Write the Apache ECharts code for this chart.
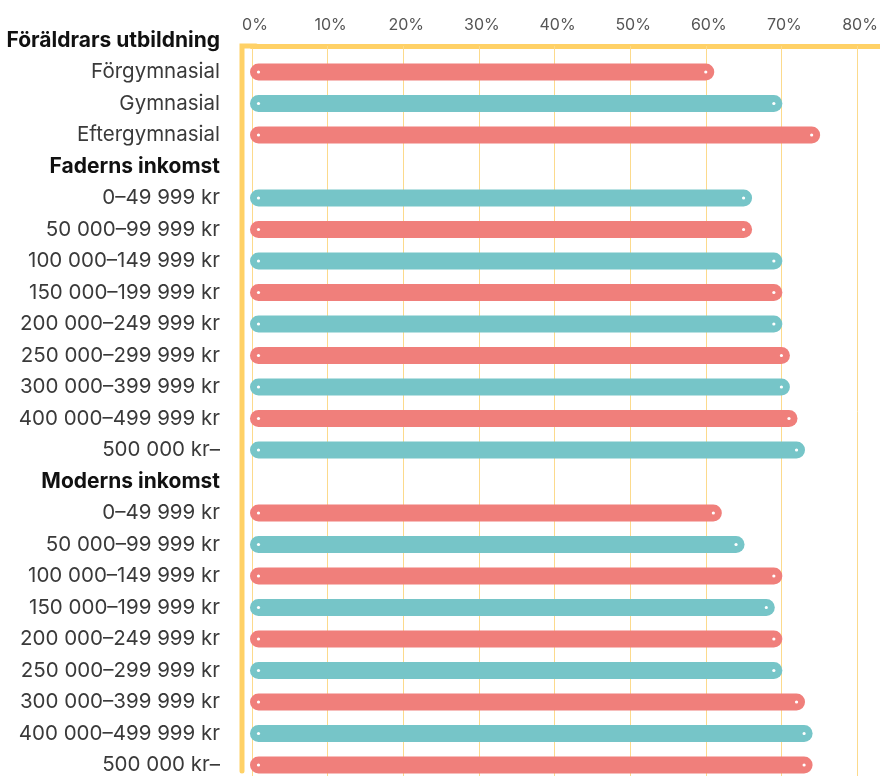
<!DOCTYPE html>
<html>
<head>
<meta charset="utf-8">
<script src="https://cdn.jsdelivr.net/npm/echarts@6/dist/echarts.min.js"></script>
<style>
  html, body { margin: 0; padding: 0; background: #fff; }
  #chart { width: 880px; height: 776px; }
</style>
</head>
<body>
<div id="chart"></div>
<script>
// Row labels, top to bottom. Group headers carry no value.
var categories = [
  "Föräldrars utbildning",
  "Förgymnasial", "Gymnasial", "Eftergymnasial",
  "Faderns inkomst",
  "0–49 999 kr", "50 000–99 999 kr", "100 000–149 999 kr", "150 000–199 999 kr",
  "200 000–249 999 kr", "250 000–299 999 kr", "300 000–399 999 kr",
  "400 000–499 999 kr", "500 000 kr–",
  "Moderns inkomst",
  "0–49 999 kr", "50 000–99 999 kr", "100 000–149 999 kr", "150 000–199 999 kr",
  "200 000–249 999 kr", "250 000–299 999 kr", "300 000–399 999 kr",
  "400 000–499 999 kr", "500 000 kr–"
];
var headers = ["Föräldrars utbildning", "Faderns inkomst", "Moderns inkomst"];

// percent, null for header rows
var values = [
  null,
  60, 69, 74,
  null,
  65, 65, 69, 69, 69, 70, 70, 71, 72,
  null,
  61, 64, 69, 68, 69, 69, 72, 73, 73
];

var xTicks = [0, 10, 20, 30, 40, 50, 60, 70, 80];

var RED = "#F07F7B";
var TEAL = "#76C5C8";
var YELLOW = "#FFD166";
var GRIDLINE = "#FCDA8C";

// the first row (a header) sits half above the yellow top line;
// the last row runs a little past the bottom of the window
var GRID_LEFT = 252, GRID_TOP = 24.75, GRID_HEIGHT = 756;
var FRAME_X = 242, FRAME_Y = 46, FRAME_BOTTOM = 771;
var BAR_W = 17;
var CAP_INSET = 6.5;     // start dot sits a little right of 0%

var chart = echarts.init(document.getElementById("chart"));

// alternate colours over the rows that have values
var barData = [];
var n = 0;
values.forEach(function (v, i) {
  if (v == null) return;
  barData.push({ value: [v, i], itemStyle: { color: n % 2 === 0 ? RED : TEAL } });
  n++;
});

function renderBar(params, api) {
  var end = api.coord([api.value(0), api.value(1)]);
  var start = api.coord([0, api.value(1)]);
  var x0 = start[0] + CAP_INSET;
  var y = end[1];
  var color = api.visual("color");
  return {
    type: "group",
    children: [
      { type: "line", shape: { x1: x0, y1: y, x2: end[0], y2: y },
        style: { stroke: color, lineWidth: BAR_W, lineCap: "round" } },
      { type: "circle", shape: { cx: x0, cy: y, r: 1.6 }, style: { fill: "#fff" } },
      { type: "circle", shape: { cx: end[0], cy: y, r: 1.6 }, style: { fill: "#fff" } }
    ]
  };
}

var font = "Inter, 'Noto Sans', sans-serif";

chart.setOption({
  animation: false,
  grid: {
    left: GRID_LEFT, top: GRID_TOP, right: -2, height: GRID_HEIGHT,
    containLabel: false, outerBoundsMode: "none"
  },
  xAxis: {
    type: "value",
    position: "top",
    min: 0,
    max: 83.3,
    interval: 10,
    offset: GRID_TOP - FRAME_Y,
    axisLine: { show: true, lineStyle: { color: YELLOW, width: 5 } },
    // gridlines drawn as long inward ticks so they start at the top line
    axisTick: { show: true, inside: true, length: 740, lineStyle: { color: GRIDLINE, width: 1 } },
    splitLine: { show: false },
    axisLabel: {
      color: "#555", fontSize: 16, fontFamily: font, margin: 13,
      padding: [0, 0, 0, 6],
      formatter: function (v) { return xTicks.indexOf(v) >= 0 ? v + "%" : ""; }
    }
  },
  yAxis: {
    type: "category",
    inverse: true,
    data: categories,
    offset: GRID_LEFT - FRAME_X,
    axisLine: { show: false },
    axisTick: { show: false },
    splitLine: { show: false },
    axisLabel: {
      interval: 0,
      margin: 22,
      fontFamily: font,
      formatter: function (v) {
        return headers.indexOf(v) >= 0 ? "{h|" + v + "}" : "{n|" + v + "}";
      },
      rich: {
        h: { fontSize: 21, fontWeight: "bold", color: "#111", fontFamily: font },
        n: { fontSize: 20.5, color: "#3a3a3a", fontFamily: font }
      }
    }
  },
  // left frame line with a square corner into the top axis line
  graphic: [{
    type: "polyline",
    shape: { points: [
      [FRAME_X, FRAME_BOTTOM],
      [FRAME_X, FRAME_Y],
      [GRID_LEFT + 4, FRAME_Y]
    ] },
    style: { stroke: YELLOW, lineWidth: 5, fill: null, lineJoin: "miter", lineCap: "round" },
    z: 10
  }],
  series: [{
    type: "custom",
    renderItem: renderBar,
    encode: { x: 0, y: 1 },
    data: barData,
    clip: false
  }]
});
</script>
</body>
</html>
